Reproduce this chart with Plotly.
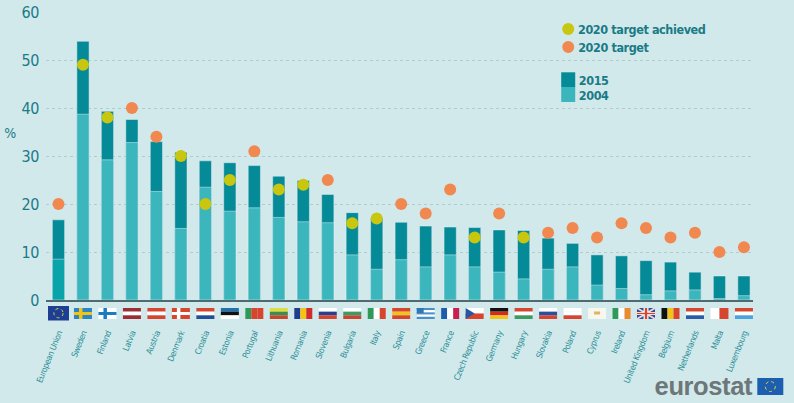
import plotly.graph_objects as go

countries = ["European Union","Sweden","Finland","Latvia","Austria","Denmark","Croatia","Estonia","Portugal","Lithuania","Romania","Slovenia","Bulgaria","Italy","Spain","Greece","France","Czech Republic","Germany","Hungary","Slovakia","Poland","Cyprus","Ireland","United Kingdom","Belgium","Netherlands","Malta","Luxembourg"]
share_2015 = [16.7,53.9,39.3,37.6,33.0,30.8,29.0,28.6,28.0,25.8,24.9,22.0,18.2,17.1,16.2,15.4,15.2,15.1,14.6,14.5,12.9,11.8,9.4,9.2,8.2,7.9,5.8,5.0,5.0]
share_2004 = [8.5,38.7,29.2,32.8,22.6,14.9,23.5,18.5,19.2,17.2,16.3,16.1,9.4,6.4,8.4,6.9,9.4,6.9,5.8,4.4,6.4,6.9,3.1,2.4,1.1,1.9,2.1,0.3,0.9]
target_2020 = [20,49,38,40,34,30,20,25,31,23,24,25,16,17,20,18,23,13,18,13,14,15,13,16,15,13,14,10,11]
achieved = [0,1,1,0,0,1,1,1,0,1,1,0,1,1,0,0,0,1,0,1,0,0,0,0,0,0,0,0,0]
y_ticks = [0,10,20,30,40,50,60]

W, H = 794, 403
L, R, T, B = 46, 41.3, 12, 103
PW, PH = W - L - R, H - T - B
TEAL = "#1a7b86"
C15, C04, YEL, ORG = "#058b97", "#3ab6bc", "#c8c60f", "#f0884f"
BG = "#d2e9eb"
x = list(range(len(countries)))

def px(v): return (v - L) / PW
def py(v): return (H - B - v) / PH

shapes = []
def rect_px(x0, y0, x1, y1, color, **kw):
    shapes.append(dict(type="rect", xref="paper", yref="paper", x0=px(x0), x1=px(x1), y0=py(y1), y1=py(y0),
                       fillcolor=color, line=dict(width=0), **kw))
def circ_px(cx, cy, r, color=None, line=None):
    shapes.append(dict(type="circle", xref="paper", yref="paper", x0=px(cx-r), x1=px(cx+r), y0=py(cy+r), y1=py(cy-r),
                       fillcolor=color or "rgba(0,0,0,0)", line=line or dict(width=0)))

# flags
FW, FT, FB = 18, 308, 319
RED, WHT, BLU, GRN, YLW, BLK = "#d8452f", "#ffffff", "#1c5ca8", "#2f9a57", "#f2c318", "#111111"
flags = {
 "Sweden": ("cross", "#2a86c4", YLW), "Finland": ("cross", WHT, "#1c7cc0"), "Denmark": ("cross", RED, WHT),
 "Latvia": ("h", ["#9c2d35", WHT, "#9c2d35"]), "Austria": ("h", [RED, WHT, RED]),
 "Croatia": ("h", [RED, WHT, "#234f96"]), "Estonia": ("h", ["#1f72ad", BLK, WHT]),
 "Portugal": ("v", [GRN, RED, RED]), "Lithuania": ("h", ["#dfdc3c", "#3f8a4f", "#c8452f"]),
 "Romania": ("v", ["#1d3f8f", YLW, "#d12b2b"]), "Slovenia": ("h", [WHT, "#2b3f8f", RED]),
 "Bulgaria": ("h", [WHT, "#3f9a62", "#c8452f"]), "Italy": ("v", [GRN, WHT, RED]),
 "Spain": ("h", [RED, YLW, RED]), "France": ("v", ["#1f5cab", WHT, "#c9204f"]),
 "Germany": ("h", [BLK, "#d62a20", YLW]), "Hungary": ("h", [RED, WHT, "#3f9a62"]),
 "Slovakia": ("h", [WHT, "#2b4fa0", RED]), "Poland": ("h", [WHT, WHT, RED]),
 "Ireland": ("v", [GRN, WHT, "#ec8a2e"]), "Belgium": ("v", [BLK, YLW, RED]),
 "Netherlands": ("h", [RED, WHT, "#2b5ca8"]), "Malta": ("v", [WHT, RED]),
 "Luxembourg": ("h", [RED, WHT, "#4aa3dc"]),
}
step = PW / (28.37 + 0.51)
def cx_of(i): return L + (i + 0.51) * step

for i, name in enumerate(countries):
    cx = cx_of(i)
    x0, x1 = cx - FW / 2, cx + FW / 2
    if name == "European Union":
        rect_px(cx-10.5, 306, cx+10.5, 320.5, "#1c3f94")
        circ_px(cx, 313.2, 4.6, line=dict(color="#e8d23a", width=1, dash="dot"))
    elif name == "Greece":
        for k in range(5):
            rect_px(x0, FT+k*11/5, x1, FT+(k+1)*11/5, "#4a8fc8" if k % 2 == 0 else WHT)
        rect_px(x0, FT, x0+7, FT+5, "#2f78b8")
    elif name == "Czech Republic":
        rect_px(x0, FT, x1, FT+5.5, WHT); rect_px(x0, FT+5.5, x1, FB, RED)
        shapes.append(dict(type="path", xref="paper", yref="paper",
            path=f"M {px(x0)} {py(FT)} L {px(x0+9)} {py(FT+5.5)} L {px(x0)} {py(FB)} Z",
            fillcolor="#2456a4", line=dict(width=0)))
    elif name == "Cyprus":
        rect_px(x0, FT, x1, FB, "#f6f7ee"); rect_px(cx-3, FT+3.5, cx+3, FT+6.5, "#e3b45a")
    elif name == "United Kingdom":
        rect_px(x0, FT, x1, FB, "#2f4f96")
        for a, b in ((FT, FB), (FB, FT)):
            shapes.append(dict(type="line", xref="paper", yref="paper", x0=px(x0), x1=px(x1), y0=py(a), y1=py(b),
                               line=dict(color="#f0d8dc", width=2)))
        rect_px(x0, FT+4, x1, FT+7, WHT); rect_px(cx-2.5, FT, cx+2.5, FB, WHT)
        rect_px(x0, FT+4.8, x1, FT+6.2, RED); rect_px(cx-1.2, FT, cx+1.2, FB, RED)
    else:
        kind = flags[name]
        if kind[0] == "h":
            n = len(kind[1])
            for k, c in enumerate(kind[1]):
                rect_px(x0, FT+k*11/n, x1, FT+(k+1)*11/n, c)
        elif kind[0] == "v":
            n = len(kind[1])
            for k, c in enumerate(kind[1]):
                rect_px(x0+k*FW/n, FT, x0+(k+1)*FW/n, FB, c)
        else:
            rect_px(x0, FT, x1, FB, kind[1])
            rect_px(x0, FT+4, x1, FT+7, kind[2]); rect_px(x0+5, FT, x0+8.5, FB, kind[2])

# legend
circ_px(568, 29, 6, YEL); circ_px(568, 47, 6, ORG)
rect_px(561, 72.3, 575, 87, C15); rect_px(561, 87, 575, 102, C04)
# eurostat flag
rect_px(757, 378, 783, 395, "#1c5fb0")
circ_px(770, 386.5, 5, line=dict(color="#e8d23a", width=1, dash="dot"))

NARROW = "DejaVu Sans Condensed, DejaVu Sans"
def label(px_x, px_y, text, size=14, color=TEAL, anchor="left", family=NARROW):
    return dict(xref="paper", yref="paper", x=px(px_x), y=py(px_y), text=text, showarrow=False,
                xanchor=anchor, yanchor="middle", font=dict(family=family, size=size, color=color))

annotations = [
    label(572, 29, "<b>2020 target achieved</b>", 12.5),
    label(574, 47, "<b>2020 target</b>", 12.5),
    label(575.5, 80, "<b>2015</b>", 12.5),
    label(575.5, 96, "<b>2004</b>", 12.5),
    label(10, 133, "%", 14, anchor="center"),
    label(756, 386, "<b>eurostat</b>", 25.5, "#6d7678", "right", "Liberation Sans, Arial, sans-serif"),
]

fig = go.Figure()
fig.add_bar(x=x, y=share_2015, marker_color=C15, width=0.5, name="2015", showlegend=False)
fig.add_bar(x=x, y=share_2004, marker_color=["#08a4a9"] + [C04] * (len(x) - 1), width=0.5, name="2004", showlegend=False)
fig.add_scatter(x=x, y=[t if not a else None for t, a in zip(target_2020, achieved)], mode="markers",
                marker=dict(color=ORG, size=12), name="2020 target", showlegend=False, cliponaxis=False)
fig.add_scatter(x=x, y=[t if a else None for t, a in zip(target_2020, achieved)], mode="markers",
                marker=dict(color=YEL, size=12), name="2020 target achieved", showlegend=False, cliponaxis=False)

fig.update_layout(
    width=W, height=H, autosize=False, barmode="overlay", bargap=0.5,
    margin=dict(l=L, r=R, t=T, b=B, pad=0),
    paper_bgcolor=BG, plot_bgcolor=BG, showlegend=False,
    shapes=shapes, annotations=annotations,
    xaxis=dict(range=[-0.51, 28.37], tickmode="array", tickvals=x, ticktext=countries, tickangle=-68,
               ticklabelstandoff=23, ticks="", showgrid=False, zeroline=False, showline=True, automargin=False,
               linecolor="#4d6b70", linewidth=1.5,
               tickfont=dict(family=NARROW, size=8.5, color="#2a8e98")),
    yaxis=dict(range=[0, 60], tickmode="array", tickvals=y_ticks, showgrid=True, griddash="dot", automargin=False,
               gridcolor="#b2cbcf", gridwidth=1, zeroline=False, ticks="", showline=False,
               ticklabelstandoff=6,
               tickfont=dict(family=NARROW, size=16, color=TEAL)),
)
post = ("document.body.style.margin='0';document.body.style.background='%s';"
        "var s=document.createElement('style');s.textContent='svg text{letter-spacing:-0.4px}';"
        "document.head.appendChild(s);" % BG)
fig.write_html("out.html", config=dict(displayModeBar=False), post_script=post)
